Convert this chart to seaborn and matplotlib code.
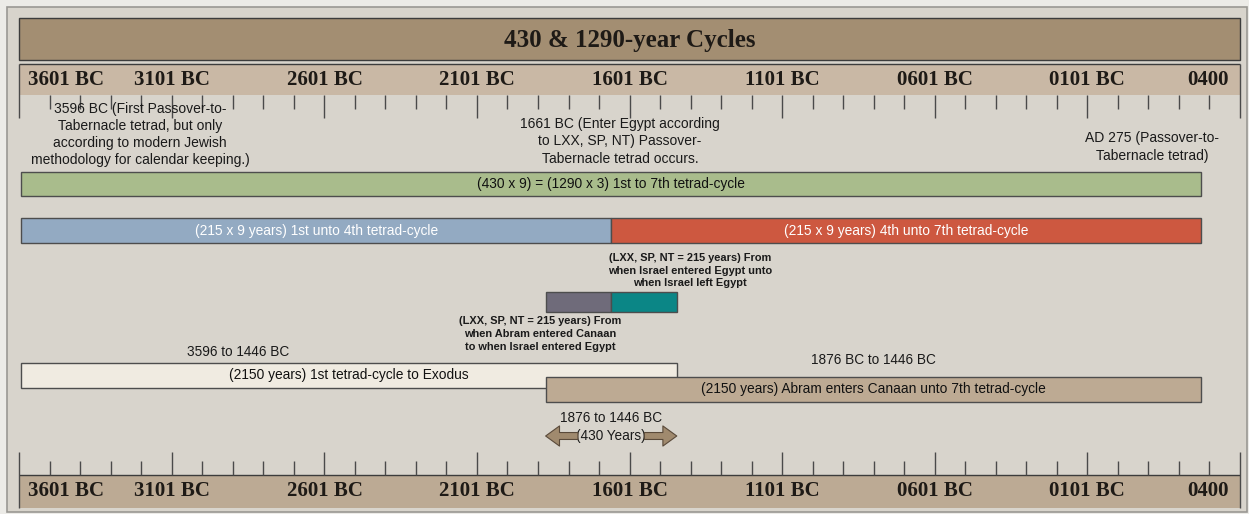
import seaborn as sns
import matplotlib.pyplot as plt
from matplotlib.patches import Rectangle

# years are astronomical: 1 BC = 0, 3596 BC = -3595, AD 275 = 275
TITLE = "430 & 1290-year Cycles"

tick_years = list(range(-3600, 401, 100))
major_years = [-3600, -3100, -2600, -2100, -1600, -1100, -600, -100, 400]
major_labels = ["3601 BC", "3101 BC", "2601 BC", "2101 BC", "1601 BC",
                "1101 BC", "0601 BC", "0101 BC", "0400"]

bar_names = ["all", "first_half", "second_half", "canaan", "egypt",
             "to_exodus", "abram"]
bar_start = [-3595, -3595, -1660, -1875, -1660, -3595, -1875]
bar_end = [275, -1660, 275, -1660, -1445, -1445, 275]
bar_text = ["(430 x 9) = (1290 x 3) 1st to 7th tetrad-cycle",
            "(215 x 9 years) 1st unto 4th tetrad-cycle",
            "(215 x 9 years) 4th unto 7th tetrad-cycle",
            "",
            "",
            "(2150 years) 1st tetrad-cycle to Exodus",
            "(2150 years) Abram enters Canaan unto 7th tetrad-cycle"]

arrow_start = -1875
arrow_end = -1445
arrow_text = "(430 Years)"
arrow_title = "1876 to 1446 BC"

note_text = ["3596 BC (First Passover-to-\nTabernacle tetrad, but only\naccording to modern Jewish\nmethodology for calendar keeping.)",
             "1661 BC (Enter Egypt according\nto LXX, SP, NT) Passover-\nTabernacle tetrad occurs.",
             "AD 275 (Passover-to-\nTabernacle tetrad)",
             "(LXX, SP, NT = 215 years) From\nwhen Israel entered Egypt unto\nwhen Israel left Egypt",
             "(LXX, SP, NT = 215 years) From\nwhen Abram entered Canaan\nto when Israel entered Egypt",
             "3596 to 1446 BC",
             "1876 BC to 1446 BC"]

# layout / style (pixel rows, colours)
row = {"all": (184, 24), "first_half": (230.5, 25), "second_half": (230.5, 25),
       "canaan": (302, 20), "egypt": (302, 20), "to_exodus": (375.5, 25),
       "abram": (389.5, 25)}
fill = {"all": "#a9bc8c", "first_half": "#93aac2", "second_half": "#cd5840",
        "canaan": "#6f6b7a", "egypt": "#0b8686", "to_exodus": "#f0ebe1",
        "abram": "#bdaa93"}
txtcol = {"first_half": "white", "second_half": "white"}
note_pos = [(-3205, 134.5, 10, "normal"), (-1631, 141.5, 10, "normal"),
            (113, 147, 10, "normal"), (-1402, 270.5, 7.9, "bold"),
            (-1893, 334, 7.9, "bold"), (-2884, 352, 9.8, "normal"),
            (-800, 360, 9.8, "normal")]

sns.set_theme(style="white")
plt.rcParams["font.family"] = ["Liberation Sans", "DejaVu Sans"]

fig = plt.figure(figsize=(12.49, 5.14), dpi=100)
fig.patch.set_facecolor("#ecebe7")
ax = fig.add_axes([0, 0, 1, 1])
ax.set_xlim(-3663.9, 431.1)
ax.set_ylim(514, 0)
ax.axis("off")

# page frame
ax.add_patch(Rectangle((7 / 1249, 2 / 514), 1240 / 1249, 505 / 514,
                       transform=ax.transAxes, facecolor="#d8d4cc",
                       edgecolor="#9a9893", lw=1.2, zorder=0))

x0, x1 = tick_years[0], tick_years[-1]
dark = "#3c3c3c"

# title bar
ax.add_patch(Rectangle((x0, 18), x1 - x0, 42, facecolor="#a38e72",
                       edgecolor=dark, lw=1, zorder=1))
ax.text((x0 + x1) / 2, 40, TITLE, ha="center", va="center", fontsize=18,
        fontweight="bold", family=["Liberation Serif"], color="#1e1a16")

# rulers
ax.add_patch(Rectangle((x0, 64), x1 - x0, 31, facecolor="#c9b8a5",
                       edgecolor="none", zorder=1))
ax.hlines(64, x0, x1, color=dark, lw=1, zorder=2)
ax.add_patch(Rectangle((x0, 475), x1 - x0, 33, facecolor="#bcaa94",
                       edgecolor="none", zorder=1))
ax.hlines(475, x0, x1, color=dark, lw=1, zorder=2)

for yr in tick_years:
    major = yr in major_years
    edge = yr in (x0, x1)
    top_a = 64 if edge else 95
    ax.vlines(yr, top_a, 118 if major else 109, color="#4a4a4a", lw=1, zorder=2)
    ax.vlines(yr, 452 if major else 461, 508 if edge else 475,
              color="#4a4a4a", lw=1, zorder=2)

for i, (yr, lab) in enumerate(zip(major_years, major_labels)):
    ha = "center"
    xx = yr
    if i == 0:
        ha, xx = "left", yr + 28
    elif i == len(major_years) - 1:
        ha, xx = "right", yr - 34
    for yy in (80, 491):
        ax.text(xx, yy, lab, ha=ha, va="center", fontsize=15,
                fontweight="bold", family=["Liberation Serif"],
                color="#1e1a16", zorder=3)

# range bars
for name, s, e, t in zip(bar_names, bar_start, bar_end, bar_text):
    yc, h = row[name]
    ax.barh(yc, e - s, left=s, height=h, color=fill[name], edgecolor="#4d4d4d",
            lw=1, zorder=4)
    if t:
        ax.text((s + e) / 2, yc, t, ha="center", va="center", fontsize=9.9,
                color=txtcol.get(name, "#111111"), zorder=5)

# notes
for t, (xx, yy, fs, fw) in zip(note_text, note_pos):
    ax.text(xx, yy, t, ha="center", va="center", fontsize=fs, fontweight=fw,
            linespacing=1.28 if fw == "normal" else 1.32,
            multialignment="center", color="#1a1a1a", zorder=5)

# 430 years double arrow
mid = (arrow_start + arrow_end) / 2
gap = 109
ax.text(mid, 418, arrow_title, ha="center", va="center", fontsize=9.8,
        color="#1a1a1a")
ax.text(mid, 436, arrow_text, ha="center", va="center", fontsize=9.8,
        color="#1a1a1a")
astyle = dict(arrowstyle="simple,head_length=1.0,head_width=1.45,tail_width=0.5",
              fc="#a08a6e", ec="#5a4a3a", lw=0.8, shrinkA=0, shrinkB=0,
              mutation_scale=10)
ax.annotate("", xy=(arrow_start, 436), xytext=(mid - gap, 436), arrowprops=astyle)
ax.annotate("", xy=(arrow_end, 436), xytext=(mid + gap, 436), arrowprops=astyle)

fig.savefig("out.png", dpi=100, facecolor=fig.get_facecolor())
